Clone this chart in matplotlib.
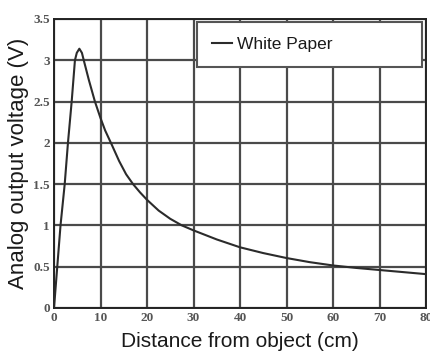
import matplotlib
matplotlib.use("Agg")
import matplotlib.pyplot as plt

# Data
distance_cm = [0, 0.7, 1.4, 2.3, 3.0, 3.8, 4.5, 4.9, 5.45, 6.0, 6.4, 7.5, 8.8, 10, 11,
               12.4, 14, 15.5, 17, 18.5, 20, 22.5, 25, 27.5, 30, 35, 40, 45, 50, 55,
               60, 65, 70, 75, 80]
voltage_v = [0, 0.5, 1.0, 1.5, 2.0, 2.5, 3.0, 3.09, 3.14, 3.09, 3.0, 2.76, 2.5, 2.3, 2.15,
             1.98, 1.78, 1.62, 1.5, 1.4, 1.31, 1.18, 1.08, 1.0, 0.94, 0.83, 0.735, 0.665,
             0.605, 0.555, 0.515, 0.485, 0.46, 0.435, 0.41]
series_label = "White Paper"
x_ticks = [0, 10, 20, 30, 40, 50, 60, 70, 80]
y_ticks = [0, 0.5, 1, 1.5, 2, 2.5, 3, 3.5]
y_tick_labels = ["0", "0.5", "1", "1.5", "2", "2.5", "3", "3.5"]

fig = plt.figure(figsize=(4.30, 3.57), dpi=100)
ax = fig.add_axes([0.1256, 0.1373, 0.8651, 0.8095])

ax.plot(distance_cm, voltage_v, color="#2b2b2b", lw=1.5, label=series_label, zorder=3)

ax.set_xlim(0, 80)
ax.set_ylim(0, 3.5)
ax.set_xticks(x_ticks)
ax.set_yticks(y_ticks)
ax.set_yticklabels(y_tick_labels)
ax.grid(True, color="#4a4a4a", lw=1.6, zorder=1)
ax.set_axisbelow(True)
ax.tick_params(length=0, pad=3, labelsize=9.5, labelcolor="#555555")
for lab in ax.get_xticklabels() + ax.get_yticklabels():
    lab.set_fontfamily("Liberation Serif")
    lab.set_fontweight("bold")
for s in ax.spines.values():
    s.set_color("#222222")
    s.set_linewidth(1.4)

ax.set_xlabel("Distance from object (cm)", fontfamily="Liberation Sans",
              fontsize=15, color="#1a1a1a", labelpad=6)
ax.set_ylabel("Analog output voltage (V)", fontfamily="Liberation Sans",
              fontsize=16, color="#1a1a1a", labelpad=3)

leg = ax.legend(loc="upper left", bbox_to_anchor=(0.384, 0.0, 0.605, 0.99),
                mode="expand", borderaxespad=0, fancybox=False, framealpha=1,
                edgecolor="#555555", handlelength=1.2, handletextpad=0.25,
                borderpad=0.85, prop={"family": "Liberation Sans", "size": 12.5})
leg.get_frame().set_linewidth(1.5)
for t in leg.get_texts():
    t.set_color("#1a1a1a")

fig.savefig("out.png", dpi=100)
